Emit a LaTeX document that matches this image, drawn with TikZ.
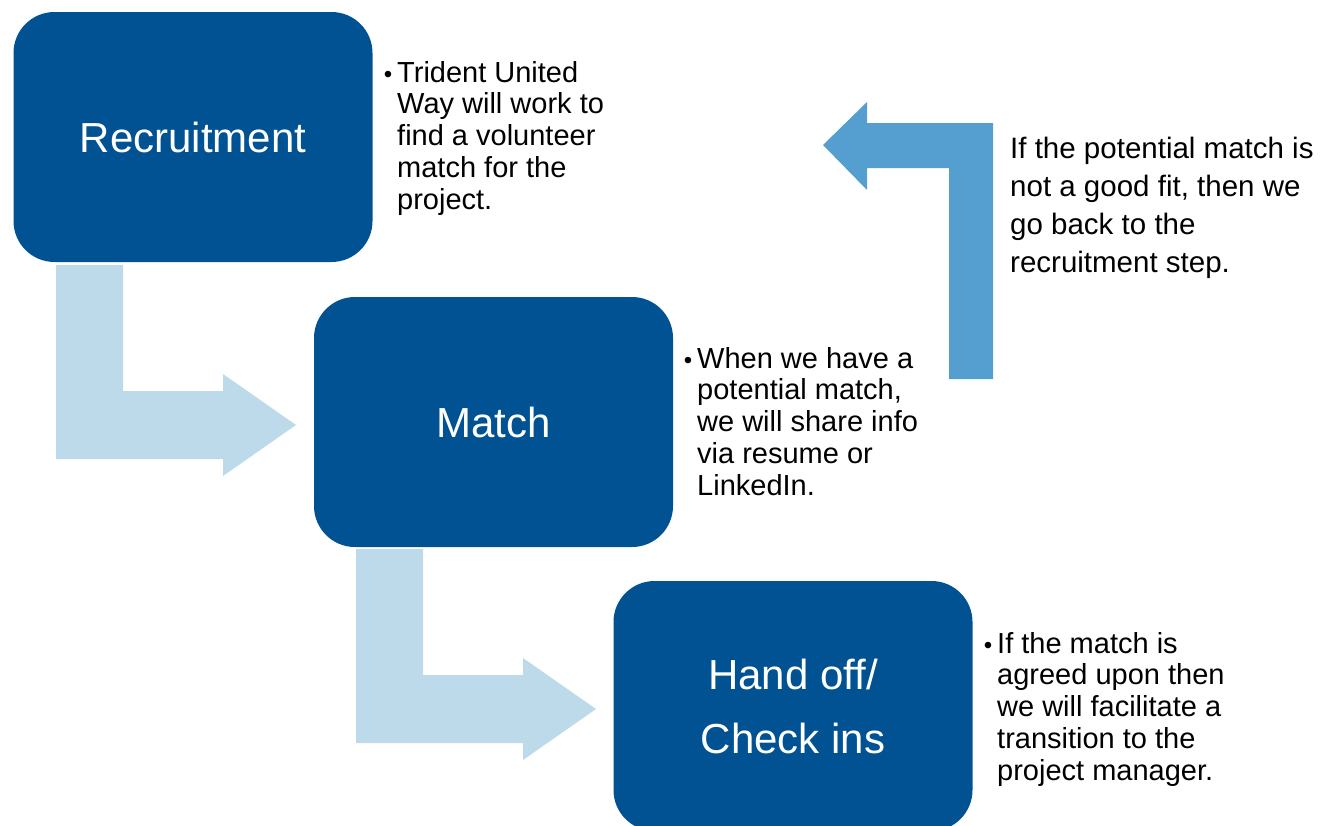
\documentclass[tikz,border=0pt]{standalone}
\usepackage{fontspec}
\setmainfont{Liberation Sans}
\definecolor{boxblue}{RGB}{0,82,147}
\definecolor{lightarrow}{RGB}{189,218,235}
\definecolor{midarrow}{RGB}{84,158,208}
\newcommand{\bul}{\llap{\raisebox{0pt}{\fontsize{24}{24}\selectfont •}\hspace{5pt}}}
\begin{document}
\begin{tikzpicture}[x=1pt,y=-1pt,
  stepbox/.style={fill=boxblue, rounded corners=41pt, text=white,
    font=\fontsize{42}{64}\selectfont, align=center,
    minimum width=359pt, minimum height=250pt, inner sep=0pt},
  bodytext/.style={anchor=base west, align=left, inner sep=0pt, text=black,
    font=\fontsize{29}{31.8}\selectfont},
  sidetext/.style={anchor=base west, align=left, inner sep=0pt, text=black,
    font=\fontsize{29.5}{38}\selectfont},
  lightshape/.style={fill=lightarrow},
  midshape/.style={fill=midarrow}]
\useasboundingbox (0,0) rectangle (1332,825);

% block arrows
\fill[lightshape] (56,265) -- (123,265) -- (123,391) -- (223,391) -- (223,374)
  -- (296,425) -- (223,476) -- (223,459) -- (56,459) -- cycle;
\fill[lightshape] (356,549) -- (423,549) -- (423,675) -- (523,675) -- (523,658)
  -- (596,709) -- (523,760) -- (523,743) -- (356,743) -- cycle;
\fill[midshape] (993,379) -- (949,379) -- (949,168) -- (867,168) -- (867,190)
  -- (823,145) -- (867,102) -- (867,123) -- (993,123) -- cycle;

% boxes
\node[stepbox] (rec) at (193,137) {Recruitment};
\node[stepbox] (match) at (493.5,422) {Match};
\node[stepbox] (hand) at (793,706) {Hand off/\\Check ins};

% texts (anchored at the baseline of their last line)
\node[bodytext] (t1) at (397,209.2) {\bul Trident United\\Way will work to\\find a volunteer\\match for the\\project.};
\node[bodytext] (t2) at (697,495.2) {\bul When we have a\\potential match,\\we will share info\\via resume or\\LinkedIn.};
\node[bodytext] (t3) at (997,780.2) {\bul If the match is\\agreed upon then\\we will facilitate a\\transition to the\\project manager.};
\node[sidetext] (t4) at (1010,272) {If the potential match is\\not a good fit, then we\\go back to the\\recruitment step.};
\end{tikzpicture}
\end{document}
